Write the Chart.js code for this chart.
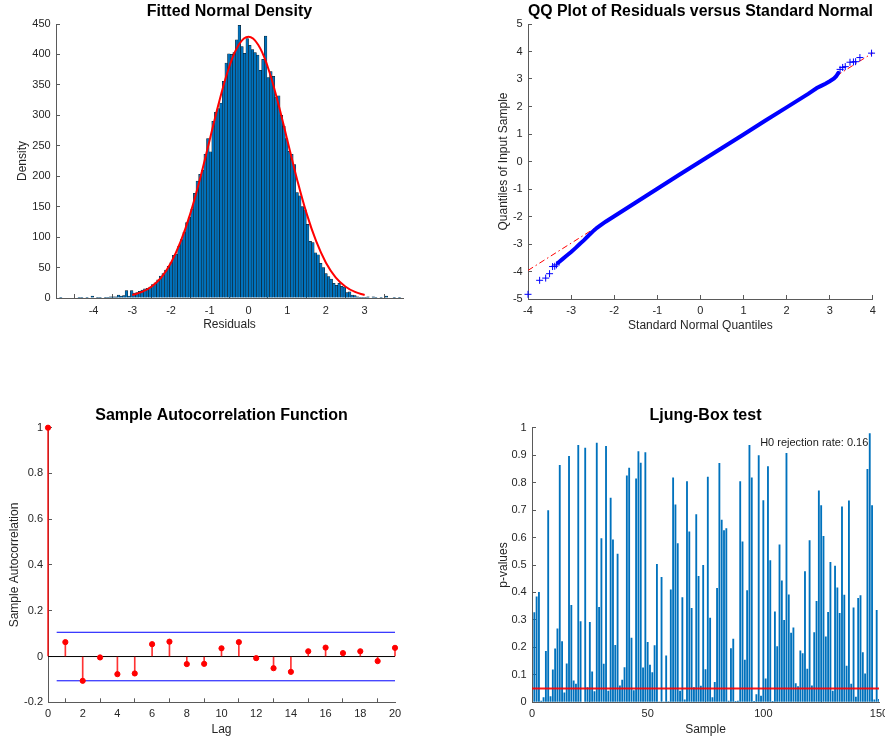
<!DOCTYPE html>
<html>
<head>
<meta charset="utf-8">
<script src="https://cdn.jsdelivr.net/npm/chart.js@4.4.1/dist/chart.umd.min.js"></script>
<style>
  html, body { margin:0; padding:0; background:#fff; width:885px; height:738px; overflow:hidden; }
  canvas { position:absolute; }
</style>
</head>
<body>
<canvas id="c-hist" width="420" height="340" style="left:0;top:0"></canvas>
<canvas id="c-qq"   width="445" height="340" style="left:440px;top:0"></canvas>
<canvas id="c-acf"  width="420" height="338" style="left:0;top:400px"></canvas>
<canvas id="c-lb"   width="420" height="338" style="left:480px;top:400px"></canvas>
<script>
// --- histogram of residuals (130 bins from -4.88, width 0.0678)
const HIST_START = -4.88;
const HIST_WIDTH = 0.0678;
const HIST_COUNTS = [
  1,0,0,0,0,0,0,1,1,0,
  1,0,3,0,1,1,0,1,1,2,
  2,2,5,3,4,12,3,12,8,9,
  11,13,15,16,18,22,25,30,36,40,
  46,52,58,70,72,85,96,108,124,133,
  146,172,192,203,210,236,262,240,290,305,
  311,320,356,386,401,400,403,424,448,413,
  402,426,415,408,403,399,374,392,430,362,
  372,364,330,332,300,282,262,241,236,219,
  173,168,150,145,121,93,91,74,71,57,
  50,40,35,31,24,21,24,19,18,9,
  10,5,4,2,1,1,1,2,0,2,
  1,0,1,0,3,0,0,1,0,1
];
// fitted normal curve
const FIT_X = [-3,-2.75,-2.5,-2.25,-2,-1.75,-1.5,-1.25,-1,-0.75,-0.5,-0.25,0,0.25,0.5,0.75,1,1.25,1.5,1.75,2,2.25,2.5,2.75,3];
const FIT_Y = [5,10,19,34,58,93,139,196,260,324,379,416,429,416,379,324,260,196,139,93,58,34,19,10,5];
const HIST_XTICKS = [-4,-3,-2,-1,0,1,2,3];
const HIST_YTICKS = [0,50,100,150,200,250,300,350,400,450];

// --- QQ plot
const QQ_BAND_X = [-3.3,-3.2,-3.1,-3.0,-2.9,-2.8,-2.7,-2.6,-2.5,-2.4,-2.2,-2.0,-1.5,-1.0,-0.5,0,0.5,1.0,1.5,2.0,2.5,2.7,2.8,2.9,3.0,3.1,3.15,3.2];
const QQ_BAND_Y = [-3.68,-3.55,-3.42,-3.29,-3.15,-3.0,-2.86,-2.70,-2.55,-2.41,-2.19,-1.99,-1.49,-0.99,-0.49,0.0,0.49,0.98,1.48,1.97,2.46,2.67,2.75,2.83,2.92,3.02,3.1,3.22];
const QQ_TAIL_X = [-4.0,-3.73,-3.59,-3.50,-3.43,-3.38,-3.34,3.24,3.30,3.36,3.47,3.55,3.60,3.70,3.97];
const QQ_TAIL_Y = [-4.83,-4.32,-4.24,-4.08,-3.82,-3.81,-3.76,3.35,3.42,3.45,3.61,3.62,3.63,3.78,3.94];
const QQ_REF_X = [-4, 4];
const QQ_REF_Y = [-3.96, 3.95];
const QQ_XTICKS = [-4,-3,-2,-1,0,1,2,3,4];
const QQ_YTICKS = [-5,-4,-3,-2,-1,0,1,2,3,4,5];

// --- sample autocorrelation
const ACF_VALUES = [1,0.063,-0.106,-0.004,-0.077,-0.074,0.054,0.065,-0.033,-0.032,0.036,0.063,-0.007,-0.051,-0.067,0.023,0.039,0.015,0.023,-0.020,0.038];
const ACF_BOUND = 0.106;
const ACF_BOUND_X = [0.5, 20];
const ACF_XTICKS = [0,2,4,6,8,10,12,14,16,18,20];
const ACF_YTICKS = [-0.2,0,0.2,0.4,0.6,0.8,1];

// --- Ljung-Box p-values, samples 1..150
const LB_PVALUES = [
  0.328,0.385,0.402,0.006,0.018,0.187,0.699,0.022,0.119,0.196,
  0.269,0.864,0.222,0.036,0.141,0.897,0.354,0.079,0.068,0.937,
  0.295,0.002,0.927,0.055,0.292,0.112,0.040,0.945,0.347,0.597,
  0.140,0.933,0.042,0.745,0.593,0.209,0.541,0.061,0.082,0.128,
  0.826,0.854,0.235,0.044,0.815,0.914,0.872,0.127,0.911,0.220,
  0.137,0.109,0.208,0.504,0.003,0.456,0.003,0.170,0.004,0.411,
  0.819,0.720,0.579,0.042,0.383,0.010,0.805,0.622,0.343,0.055,
  0.685,0.460,0.060,0.500,0.120,0.821,0.308,0.018,0.074,0.416,
  0.871,0.665,0.627,0.634,0.006,0.197,0.231,0.005,0.006,0.805,
  0.586,0.155,0.408,0.937,0.819,0.005,0.029,0.900,0.024,0.736,
  0.087,0.860,0.517,0.005,0.331,0.204,0.575,0.444,0.300,0.908,
  0.393,0.253,0.272,0.069,0.058,0.189,0.179,0.477,0.122,0.590,
  0.061,0.255,0.369,0.771,0.718,0.606,0.240,0.329,0.511,0.042,
  0.497,0.418,0.325,0.713,0.392,0.133,0.735,0.068,0.345,0.020,
  0.380,0.390,0.182,0.105,0.850,0.980,0.718,0.010,0.336,0.012
];
const LB_ALPHA = 0.05;
const LB_NOTE = 'H0 rejection rate: 0.16';
const LB_XTICKS = [0,50,100,150];
const LB_YTICKS = [0,0.1,0.2,0.3,0.4,0.5,0.6,0.7,0.8,0.9,1];

const FONT = '"Liberation Sans", Arial, Helvetica, sans-serif';
const INK = '#262626';
const AXIS = '#5a5a5a';
const MBLUE = '#0072BD';
Chart.defaults.font.family = FONT;

const pts = (xs, ys) => xs.map((x, i) => ({ x, y: ys[i] }));

// MATLAB-ish axis: inward ticks, fixed box size so the plot area lands where it should
function axis(min, max, ticks, label, size, tickPad, titlePad) {
  return {
    type: 'linear', min, max, offset: false,
    afterBuildTicks: s => { s.ticks = ticks.map(v => ({ value: v })); },
    afterFit: s => { if (s.isHorizontal()) s.height = size; else s.width = size; },
    grid: { drawOnChartArea: false, drawTicks: true, tickLength: -4, color: AXIS, lineWidth: 1 },
    border: { display: true, color: AXIS, width: 1 },
    ticks: { color: INK, font: { size: 11 }, padding: tickPad, maxRotation: 0, autoSkip: false, callback: v => String(v) },
    title: { display: true, text: label, color: INK, font: { size: 12 }, padding: { top: titlePad, bottom: titlePad } }
  };
}

function base(title, padRight, tTop, tBot) {
  return {
    responsive: false, animation: false,
    layout: { padding: { left: 0, right: padRight, top: 0, bottom: 0 } },
    plugins: {
      legend: { display: false }, tooltip: { enabled: false },
      title: { display: true, text: title, fullSize: false, color: '#000',
               font: { size: 16, weight: 'bold' }, padding: { top: tTop, bottom: tBot } }
    }
  };
}

// 1. Fitted Normal Density
new Chart(document.getElementById('c-hist'), {
  type: 'bar',
  data: {
    datasets: [
      { type: 'line', data: pts(FIT_X, FIT_Y), borderColor: '#ff0000', borderWidth: 2,
        pointRadius: 0, tension: 0.4, order: 1 },
      { type: 'bar', data: HIST_COUNTS.map((c, i) => ({ x: HIST_START + (i + 0.5) * HIST_WIDTH, y: c })),
        backgroundColor: MBLUE, borderColor: '#111', borderWidth: 0.5,
        barPercentage: 1, categoryPercentage: 1, order: 2 }
    ]
  },
  options: {
    ...base('Fitted Normal Density', 17, 2.4, 2.4),
    scales: {
      x: axis(-4.97, 3.99, HIST_XTICKS, 'Residuals', 42, 10.1, 7.8),
      y: axis(0, 450, HIST_YTICKS, 'Density', 56, 9.3, 15.8)
    }
  }
});

// 2. QQ plot
new Chart(document.getElementById('c-qq'), {
  type: 'scatter',
  data: {
    datasets: [
      { data: pts(QQ_TAIL_X, QQ_TAIL_Y), pointStyle: 'cross', pointRadius: 3.5, borderColor: '#0000ff',
        borderWidth: 1, clip: 8, order: 1 },
      { data: pts(QQ_BAND_X, QQ_BAND_Y), showLine: true, borderColor: '#0000ff', borderWidth: 4,
        borderCapStyle: 'round', pointRadius: 0, order: 2 },
      { data: pts(QQ_REF_X, QQ_REF_Y), showLine: true, borderColor: '#ff0000', borderWidth: 1,
        borderDash: [6, 3, 1.5, 3], pointRadius: 0, order: 3 }
    ]
  },
  options: {
    ...base('QQ Plot of Residuals versus Standard Normal', 10, 2.4, 2.4),
    scales: {
      x: axis(-4, 4, QQ_XTICKS, 'Standard Normal Quantiles', 41, 9.1, 7.5),
      y: axis(-5, 5, QQ_YTICKS, 'Quantiles of Input Sample', 88, 9.3, 56.1)
    }
  }
});

// 3. Sample Autocorrelation Function
const acfPts = ACF_VALUES.map((v, lag) => ({ x: lag, y: v }));
new Chart(document.getElementById('c-acf'), {
  type: 'scatter',
  data: {
    datasets: [
      { data: acfPts, backgroundColor: '#ff0000', borderColor: '#ff0000', pointRadius: 2.6, clip: false, order: 1 },
      { type: 'bar', data: acfPts, backgroundColor: 'rgba(255,0,0,0.8)', barThickness: 1, clip: false, order: 2 },
      { data: pts([0, 20], [0, 0]), showLine: true, borderColor: '#000', borderWidth: 1, pointRadius: 0, order: 3 },
      { data: pts(ACF_BOUND_X, [ACF_BOUND, ACF_BOUND]), showLine: true, borderColor: '#0000ff', borderWidth: 1, pointRadius: 0, order: 4 },
      { data: pts(ACF_BOUND_X, [-ACF_BOUND, -ACF_BOUND]), showLine: true, borderColor: '#0000ff', borderWidth: 1, pointRadius: 0, order: 4 }
    ]
  },
  options: {
    ...base('Sample Autocorrelation Function', 25, 6.1, 2.4),
    scales: {
      x: axis(0, 20, ACF_XTICKS, 'Lag', 35.7, 9.4, 1.5),
      y: axis(-0.2, 1, ACF_YTICKS, 'Sample Autocorrelation', 48, 9, 7.8)
    }
  }
});

// 4. Ljung-Box test
const notePlugin = {
  id: 'note',
  afterDatasetsDraw(c) {
    const { ctx, scales: { x, y } } = c;
    ctx.save();
    ctx.font = `11px ${FONT}`;
    ctx.fillStyle = '#1a1a1a';
    ctx.textAlign = 'right';
    ctx.textBaseline = 'middle';
    ctx.fillText(LB_NOTE, x.getPixelForValue(145.4), y.getPixelForValue(0.945));
    ctx.restore();
  }
};
new Chart(document.getElementById('c-lb'), {
  type: 'bar',
  data: {
    datasets: [
      { type: 'line', data: pts([LB_XTICKS[0], LB_XTICKS[LB_XTICKS.length - 1]], [LB_ALPHA, LB_ALPHA]),
        borderColor: 'rgba(255,0,0,0.9)', borderWidth: 2, pointRadius: 0, order: 1 },
      { type: 'bar', data: LB_PVALUES.map((p, i) => ({ x: i + 1, y: p })), backgroundColor: MBLUE,
        barPercentage: 0.8, categoryPercentage: 1, order: 2 }
    ]
  },
  options: {
    ...base('Ljung-Box test', 21, 6.1, 2.4),
    scales: {
      x: axis(0, 150, LB_XTICKS, 'Sample', 35.7, 9.4, 1.5),
      y: axis(0, 1, LB_YTICKS, 'p-values', 52, 9.3, 16.1)
    }
  },
  plugins: [notePlugin]
});
</script>
</body>
</html>
